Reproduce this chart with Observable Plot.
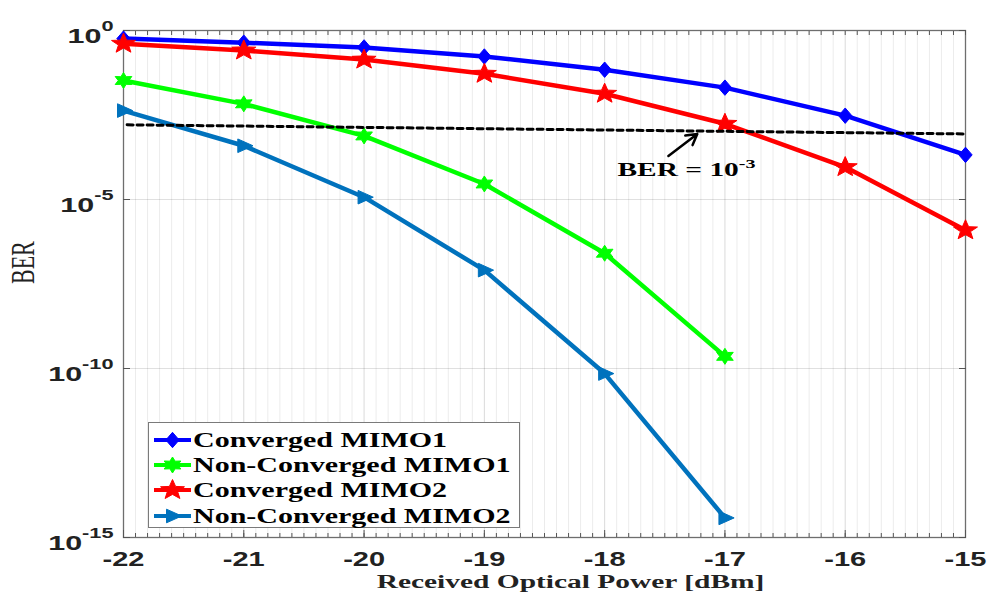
<!DOCTYPE html>
<html><head><meta charset="utf-8">
<script src="https://cdn.jsdelivr.net/npm/d3@7"></script>
<script src="https://cdn.jsdelivr.net/npm/@observablehq/plot@0.6"></script>
<style>
body{margin:0;background:#fff;}
#wrap{position:relative;width:987px;height:594px;overflow:hidden;}
#legend{position:absolute;left:148px;top:422px;width:372px;height:106px;border:1px solid #7a7a7a;background:#fff;box-sizing:border-box;}
.row{position:absolute;left:0;height:26px;width:100%;}
.row svg{position:absolute;left:4px;top:0;}
.lab{position:absolute;left:44px;top:1px;font:bold 20px "Liberation Serif","Times New Roman",serif;line-height:24px;transform:scaleX(1.5);transform-origin:left center;white-space:nowrap;color:#000;}
</style>
</head><body>
<div id="wrap"><div id="chart"></div><div id="legend"></div></div>
<script>
// ---- data ----
const power = [-22, -21, -20, -19, -18, -17, -16, -15];
const seriesNames = ["Converged MIMO1", "Non-Converged MIMO1", "Converged MIMO2", "Non-Converged MIMO2"];
const seriesColors = ["#0000ff", "#00ff00", "#ff0000", "#0072bd"];
const convMIMO1 = [0.575, 0.437, 0.316, 0.170, 0.0692, 0.0204, 3.02e-3, 2.09e-4];
const nonConvMIMO1 = [0.0331, 6.76e-3, 7.59e-4, 2.88e-5, 2.57e-7, 2.29e-10];
const convMIMO2 = [0.407, 0.257, 0.138, 0.0525, 0.0135, 1.74e-3, 9.1e-5, 1.23e-6];
const nonConvMIMO2 = [4.27e-3, 3.89e-4, 1.17e-5, 8.13e-8, 7.08e-11, 3.8e-15];
const thresholdX = [-21.97, -15];
const thresholdY = [1.62e-3, 8.7e-4];
const arrowFrom = {x: -17.47, y: 1.95e-4};
const arrowTo = {x: -17.23, y: 8.7e-4};
const annotation = {x: -17.894, y: 5.0e-5, text: "BER = 10|-3"};
const xTicks = [-22, -21, -20, -19, -18, -17, -16, -15];
const yTicks = [1e-15, 1e-10, 1e-5, 1];
const xLabel = "Received Optical Power [dBm]";
const yLabel = "BER";

// ---- symbols ----
const rad = s => Math.sqrt(s / Math.PI);
const diamondSym = {draw(c, s) { const r = rad(s); c.moveTo(0, -r * 1.1); c.lineTo(r * 0.95, 0); c.lineTo(0, r * 1.1); c.lineTo(-r * 0.95, 0); c.closePath(); }};
const starN = (n, inner, sx) => ({draw(c, s) { const R = rad(s); for (let k = 0; k < 2 * n; k++) { const a = Math.PI / n * k - Math.PI / 2; const rr = k % 2 ? R * inner : R; const x = rr * Math.cos(a) * sx, y = rr * Math.sin(a); k ? c.lineTo(x, y) : c.moveTo(x, y); } c.closePath(); }});
const hexSym = starN(6, 0.55, 1.2);
const pentSym = starN(5, 0.42, 1.2);
const triSym = {draw(c, s) { const r = rad(s); c.moveTo(r * 1.15, 0); c.lineTo(-r * 0.75, -r * 0.85); c.lineTo(-r * 0.75, r * 0.85); c.closePath(); }};
const symbols = [diamondSym, hexSym, pentSym, triSym];
const radii = [7, 8, 10.5, 8];

const allValues = [convMIMO1, nonConvMIMO1, convMIMO2, nonConvMIMO2];
const series = allValues.map((vals, k) => vals.map((v, i) => ({x: power[i], y: v, k})));
const threshold = thresholdX.map((x, i) => ({x, y: thresholdY[i]}));

const minorTicks = d3.range(0, 71).map(i => -22 + i / 10).filter(v => Math.abs(v - Math.round(v)) > 1e-6);
const allXTicks = d3.range(0, 71).map(i => -22 + i / 10);

const sansFont = "Liberation Sans, Arial, Helvetica, sans-serif";
const serifFont = "Liberation Serif, Times New Roman, serif";

const marks = [
  Plot.gridX({ticks: minorTicks, stroke: "#000", strokeOpacity: 0.08}),
  Plot.gridX({ticks: xTicks, stroke: "#000", strokeOpacity: 0.15}),
  Plot.gridY({ticks: yTicks, stroke: "#000", strokeOpacity: 0.12}),
  Plot.frame({stroke: "#6e6e6e", strokeWidth: 1.3}),
  // inward ticks
  Plot.axisX({anchor: "bottom", ticks: allXTicks, tickSize: -4, tickFormat: () => "", label: null, stroke: "#555"}),
  Plot.axisX({anchor: "bottom", ticks: xTicks, tickSize: -7, tickFormat: () => "", label: null, stroke: "#555"}),
  Plot.axisX({anchor: "top", ticks: allXTicks, tickSize: -4, tickFormat: () => "", label: null, stroke: "#555"}),
  Plot.axisY({anchor: "left", ticks: yTicks, tickSize: -7, tickFormat: () => "", label: null, stroke: "#555"}),
  Plot.axisY({anchor: "right", ticks: yTicks, tickSize: -7, tickFormat: () => "", label: null, stroke: "#555"}),
  // labels
  Plot.axisX({anchor: "bottom", ticks: xTicks, tickSize: 0, tickPadding: 14, tickFormat: d => String(d), label: null,
    fontSize: 20, fontWeight: "bold", fontFamily: sansFont, fill: "#222"}),
  Plot.axisY({anchor: "left", ticks: yTicks, tickSize: 0, tickPadding: 10, tickFormat: d => "10|" + Math.round(Math.log10(d)), label: null,
    fontSize: 21, fontWeight: "bold", fontFamily: sansFont, fill: "#222"}),
  Plot.text([xLabel], {text: d => d, frameAnchor: "bottom", dx: 26, dy: 50, fontSize: 19, fontWeight: "bold", fontFamily: serifFont, fill: "#222"}),
  Plot.text([yLabel], {text: d => d, frameAnchor: "left", rotate: -90, dx: -100, fontSize: 22, fontFamily: serifFont, fill: "#222"}),
];
series.forEach((data, k) => {
  marks.push(Plot.line(data, {x: "x", y: "y", stroke: seriesColors[k], strokeWidth: 4.5}));
  marks.push(Plot.dot(data, {x: "x", y: "y", symbol: symbols[k], r: radii[k], fill: seriesColors[k], stroke: seriesColors[k], strokeWidth: 1}));
});
marks.push(Plot.line(threshold, {x: "x", y: "y", stroke: "#000", strokeWidth: 3, strokeDasharray: "6,4"}));
marks.push(Plot.arrow([{x1: arrowFrom.x, y1: arrowFrom.y, x2: arrowTo.x, y2: arrowTo.y}], {x1: "x1", y1: "y1", x2: "x2", y2: "y2", stroke: "#000", strokeWidth: 2.5, headLength: 10}));
marks.push(Plot.text([annotation], {x: "x", y: "y", text: "text", textAnchor: "start", lineAnchor: "bottom", fontSize: 19, fontWeight: "bold", fontFamily: serifFont, fill: "#000"}));

const chart = Plot.plot({
  width: 987, height: 594,
  marginLeft: 123, marginRight: 22, marginTop: 30, marginBottom: 57,
  x: {domain: [-22, -15]},
  y: {type: "log", domain: [1e-15, 1]},
  style: {background: "white", overflow: "visible"},
  marks
});
document.getElementById("chart").appendChild(chart);

// superscripts and horizontal stretch of texts
d3.select(chart).selectAll("text").each(function() {
  const el = this;
  const s = el.textContent;
  if (s.includes("|")) {
    const [base, exp] = s.split("|");
    const isTick = base === "10";
    el.textContent = "";
    if (isTick) el.setAttribute("y", "12");
    const t1 = document.createElementNS("http://www.w3.org/2000/svg", "tspan");
    t1.textContent = base;
    const t2 = document.createElementNS("http://www.w3.org/2000/svg", "tspan");
    t2.textContent = exp;
    t2.setAttribute("dy", isTick ? -12 : -8);
    t2.setAttribute("font-size", isTick ? 15 : 13);
    el.appendChild(t1); el.appendChild(t2);
  }
  const fam = (el.closest("[font-family]") || el).getAttribute("font-family") || "";
  const k = fam.includes("Serif") ? 1.55 : 1.45;
  const tr = el.getAttribute("transform") || "";
  el.setAttribute("transform", tr + (tr.includes("rotate(-90)") ? ` scale(1,${k})` : ` scale(${k},1)`));
});

// legend
const legend = d3.select("#legend");
const rowCenters = [17, 42, 67, 93];
seriesNames.forEach((name, k) => {
  const row = legend.append("div").attr("class", "row").style("top", (rowCenters[k] - 13) + "px");
  const sv = row.append("svg").attr("width", 40).attr("height", 26);
  sv.append("line").attr("x1", 1).attr("x2", 38).attr("y1", 13).attr("y2", 13).attr("stroke", seriesColors[k]).attr("stroke-width", 4);
  const p = d3.path();
  symbols[k].draw(p, Math.PI * radii[k] * radii[k]);
  sv.append("path").attr("d", p.toString()).attr("transform", "translate(19.5,13)").attr("fill", seriesColors[k]).attr("stroke", seriesColors[k]);
  row.append("div").attr("class", "lab").text(name);
});
</script>
</body></html>
